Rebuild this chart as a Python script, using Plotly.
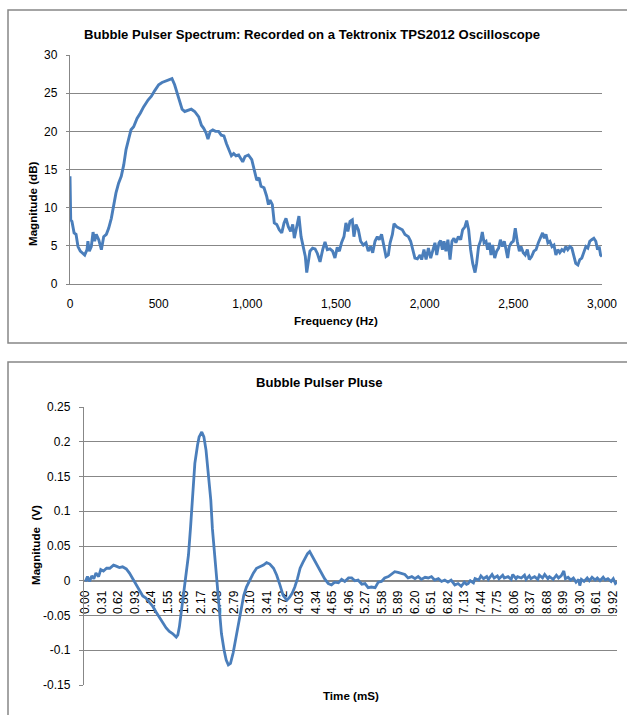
import plotly.graph_objects as go

W, H = 627, 715

# ---------------- Spectrum data (Hz, dB) ----------------
spec_freq = [0, 4, 11, 23, 34, 45, 58, 71, 83, 96, 101, 109, 120, 130, 139, 148, 162, 177, 190, 205,
             218, 233, 246, 259, 274, 289, 303, 316, 331, 344, 359, 378, 397, 415, 440, 459, 477, 500,
             519, 538, 556, 575, 590, 603, 617, 632, 647, 665, 684, 703, 726, 741, 754, 767, 778, 791,
             805, 820, 838, 853, 868, 882, 895, 910, 923, 936, 951, 965, 974, 987, 1006, 1025, 1038,
             1053, 1066, 1077, 1094, 1109, 1119, 1128, 1141, 1152, 1166, 1180, 1194, 1207, 1218, 1231,
             1244, 1256, 1265, 1278, 1291, 1303, 1316, 1327, 1335, 1344, 1353, 1368, 1382, 1395, 1410,
             1425, 1438, 1451, 1466, 1481, 1494, 1507, 1519, 1531, 1545, 1556, 1567, 1579, 1592, 1601,
             1613, 1626, 1639, 1654, 1669, 1682, 1695, 1707, 1720, 1733, 1744, 1757, 1771, 1782, 1795,
             1805, 1818, 1827, 1842, 1857, 1874, 1889, 1908, 1921, 1932, 1945, 1959, 1974, 1983, 1996,
             2008, 2021, 2034, 2045, 2058, 2068, 2081, 2090, 2100, 2109, 2120, 2131, 2143, 2154, 2165,
             2176, 2190, 2203, 2214, 2227, 2237, 2248, 2259, 2271, 2284, 2293, 2304, 2316, 2325, 2335,
             2346, 2355, 2365, 2374, 2383, 2395, 2406, 2417, 2427, 2438, 2449, 2459, 2468, 2477, 2489,
             2500, 2511, 2522, 2534, 2543, 2556, 2567, 2579, 2590, 2603, 2616, 2628, 2641, 2654, 2665,
             2675, 2684, 2695, 2706, 2718, 2729, 2740, 2751, 2762, 2774, 2785, 2796, 2807, 2819, 2830,
             2841, 2852, 2864, 2875, 2886, 2897, 2909, 2920, 2931, 2942, 2954, 2965, 2975, 2984, 2992,
             3000]
spec_db = [14.1, 8.4, 8.2, 6.7, 6.5, 4.9, 4.3, 4.0, 3.8, 4.5, 5.6, 4.3, 4.9, 6.8, 5.6, 6.5, 5.8, 4.5, 6.2, 6.5,
           7.3, 8.6, 10.2, 11.9, 13.2, 14.1, 15.6, 17.6, 19.0, 20.2, 20.6, 21.7, 22.4, 23.2, 24.1, 24.6, 25.3, 26.1,
           26.4, 26.6, 26.8, 26.9, 26.1, 25.2, 24.1, 22.9, 22.6, 22.7, 22.9, 22.6, 21.9, 20.8, 20.4, 19.8, 19.0, 20.0,
           20.2, 20.0, 20.0, 19.5, 19.4, 18.4, 17.6, 16.8, 17.1, 16.8, 16.9, 16.3, 16.0, 16.7, 16.9, 16.3, 15.0,
           13.6, 13.9, 12.8, 12.6, 11.5, 10.4, 11.0, 10.4, 8.0, 7.8, 7.1, 6.7, 8.0, 8.6, 7.5,
           6.9, 7.8, 6.0, 7.5, 8.9, 6.2, 4.9, 3.6, 1.5, 2.7, 4.3, 4.7, 4.6, 4.0, 2.9,
           4.5, 5.5, 4.5, 4.6, 4.3, 3.4, 4.8, 4.3, 5.4, 6.2, 8.0, 6.9, 8.2, 8.4, 6.2,
           7.8, 7.1, 5.6, 5.1, 5.4, 4.3, 4.9, 4.1, 5.6, 6.2, 5.8, 6.5, 4.9, 3.6, 3.8,
           5.4, 6.5, 7.9, 7.5, 7.3, 7.1, 6.5, 6.2, 5.6, 4.5, 3.4, 3.3, 3.8, 3.2, 4.5,
           3.2, 4.7, 3.4, 4.3, 5.4, 3.8, 5.4, 5.7, 4.5, 5.6, 4.3, 5.8, 3.2, 5.6, 6.0,
           5.4, 6.2, 5.8, 7.1, 7.5, 8.3, 7.1, 4.5, 2.7, 1.5, 2.7, 4.9, 5.7, 6.8, 5.4,
           5.6, 4.5, 5.4, 3.8, 5.1, 3.4, 4.3, 4.7, 5.8, 4.9, 5.6, 4.5, 3.4, 4.9, 5.4,
           5.6, 7.3, 5.6, 4.3, 4.9, 4.1, 3.8, 4.5, 3.2, 3.6, 4.3, 4.5, 5.4, 6.0, 6.7,
           6.0, 6.5, 5.4, 5.6, 4.9, 5.1, 3.8, 4.5, 4.1, 4.5, 4.3, 4.9, 4.5, 4.9, 4.7,
           3.8, 2.7, 2.5, 3.2, 3.4, 4.1, 4.9, 4.7, 5.6, 5.8, 6.0, 5.6, 4.5, 4.9, 3.8,
           3.6]

spec_yticks = [0, 5, 10, 15, 20, 25, 30]
spec_xticks = [0, 500, 1000, 1500, 2000, 2500, 3000]

# ---------------- Pulse data (ms, V) ----------------
pulse_t = [0.00, 0.04, 0.08, 0.12, 0.16, 0.20, 0.25, 0.29, 0.34, 0.40, 0.46, 0.53, 0.58, 0.64, 0.70, 0.77,
           0.83, 0.89, 0.95, 1.02, 1.08, 1.14, 1.20, 1.27, 1.33, 1.39, 1.45, 1.52, 1.58, 1.64, 1.71, 1.74,
           1.77, 1.81, 1.86, 1.89, 1.94, 1.98, 2.02, 2.06, 2.11, 2.14, 2.19, 2.23, 2.27, 2.31, 2.36, 2.39,
           2.44, 2.48, 2.52, 2.56, 2.61, 2.65, 2.69, 2.73, 2.78, 2.83, 2.88, 2.93, 2.98, 3.03, 3.10, 3.16,
           3.22, 3.28, 3.35, 3.41, 3.47, 3.54, 3.60, 3.66, 3.72, 3.79, 3.84, 3.89, 3.94, 3.99, 4.04, 4.09,
           4.14, 4.18, 4.22, 4.27, 4.32, 4.38, 4.44, 4.50, 4.57, 4.63, 4.69, 4.76, 4.82, 4.88, 4.95, 5.01,
           5.07, 5.13, 5.20, 5.26, 5.32, 5.38, 5.45, 5.51, 5.57, 5.63, 5.70, 5.76, 5.82, 5.88, 5.95, 6.01,
           6.07, 6.14, 6.20, 6.26, 6.32, 6.39, 6.45, 6.51, 6.57, 6.64, 6.70, 6.76, 6.82, 6.88, 6.95, 7.01,
           7.07, 7.13, 7.17, 7.20, 7.24, 7.30, 7.33, 7.40, 7.44, 7.49, 7.55, 7.58, 7.65, 7.69, 7.75, 7.78,
           7.85, 7.88, 7.95, 8.01, 8.04, 8.10, 8.13, 8.20, 8.26, 8.29, 8.35, 8.38, 8.45, 8.51, 8.54, 8.60,
           8.64, 8.70, 8.73, 8.80, 8.86, 8.90, 8.95, 9.00, 9.03, 9.08, 9.13, 9.18, 9.23, 9.28, 9.30, 9.33,
           9.38, 9.44, 9.48, 9.53, 9.59, 9.63, 9.68, 9.74, 9.78, 9.83, 9.89, 9.93, 9.97, 10.00]
pulse_v = [-0.001, 0.006, -0.001, 0.007, 0.003, 0.011, 0.006, 0.016, 0.014, 0.018, 0.018, 0.0225, 0.021, 0.019, 0.020, 0.017,
           0.011, 0.003, -0.006, -0.016, -0.022, -0.025, -0.030, -0.037, -0.045, -0.052, -0.060, -0.068, -0.073, -0.076, -0.081, -0.078,
           -0.066, -0.042, -0.013, 0.006, 0.037, 0.078, 0.121, 0.169, 0.195, 0.207, 0.214, 0.207, 0.188, 0.157, 0.116, 0.075,
           0.032, -0.009, -0.042, -0.076, -0.100, -0.114, -0.121, -0.119, -0.104, -0.083, -0.059, -0.037, -0.021, -0.009, 0.003, 0.011,
           0.018, 0.020, 0.0225, 0.026, 0.024, 0.018, 0.008, -0.006, -0.021, -0.028, -0.024, -0.018, -0.009, 0.003, 0.018, 0.026,
           0.034, 0.039, 0.042, 0.035, 0.030, 0.020, 0.011, 0.003, -0.004, -0.006, -0.002, -0.003, 0.002, -0.001, 0.004, 0.004,
           0.000, 0.001, -0.005, -0.004, -0.010, -0.009, -0.010, -0.002, -0.001, 0.004, 0.006, 0.010, 0.013, 0.012, 0.010, 0.009,
           0.004, 0.006, 0.003, 0.006, 0.002, 0.005, 0.004, 0.006, 0.001, 0.003, -0.001, 0.001, -0.002, 0.001, -0.006, -0.004,
           -0.008, -0.002, -0.005, -0.004, 0.000, -0.003, 0.003, 0.001, 0.007, 0.003, 0.006, 0.002, 0.009, 0.004, 0.007, 0.003,
           0.008, 0.004, 0.006, 0.002, 0.009, 0.003, 0.006, 0.004, 0.008, 0.002, 0.007, 0.003, 0.006, 0.002, 0.008, 0.004,
           0.009, 0.003, 0.006, 0.002, 0.008, 0.004, 0.007, 0.014, 0.003, 0.005, 0.001, 0.004, -0.002, 0.002, -0.007, 0.002,
           -0.001, 0.004, 0.000, 0.005, 0.001, 0.004, 0.000, 0.005, 0.001, 0.003, -0.001, 0.003, -0.004, -0.002]

pulse_xlabels = ["0.00", "0.31", "0.62", "0.93", "1.24", "1.55", "1.86", "2.17", "2.48", "2.79", "3.10",
                 "3.41", "3.72", "4.03", "4.34", "4.65", "4.96", "5.27", "5.58", "5.89", "6.20", "6.51",
                 "6.82", "7.13", "7.44", "7.75", "8.06", "8.37", "8.68", "8.99", "9.30", "9.61", "9.92"]
pulse_yticks = [-0.15, -0.1, -0.05, 0, 0.05, 0.1, 0.15, 0.2, 0.25]
pulse_ylabels = ["-0.15", "-0.1", "-0.05", "0", "0.05", "0.1", "0.15", "0.2", "0.25"]

# ---------------- Styling ----------------
LINE = "#4A7EBB"
GRID = "#878787"
FONT = "Liberation Sans"
TXT = "#000000"


def px_x(p):
    return p / W


def px_y(p):
    return 1 - p / H


fig = go.Figure()
fig.add_trace(go.Scatter(x=spec_freq, y=spec_db, mode="lines",
                         line=dict(color=LINE, width=2.9), xaxis="x", yaxis="y",
                         showlegend=False, hoverinfo="x+y"))
fig.add_trace(go.Scatter(x=pulse_t, y=pulse_v, mode="lines",
                         line=dict(color=LINE, width=2.8), xaxis="x2", yaxis="y2",
                         showlegend=False, hoverinfo="x+y"))

# plot-area pixel boxes
top_x0, top_x1, top_y0, top_y1 = 70, 602, 55, 284
bot_x0, bot_x1, bot_y0, bot_y1 = 84, 617, 407, 685

y2_dom = [px_y(bot_y1), px_y(bot_y0)]
y2_range = [-0.15, 0.25]
zero_pos = y2_dom[0] + (0 - y2_range[0]) / (y2_range[1] - y2_range[0]) * (y2_dom[1] - y2_dom[0])

tickfont = dict(family=FONT, size=12, color=TXT)

fig.update_layout(
    width=W, height=H, autosize=False,
    margin=dict(l=0, r=0, t=0, b=0, pad=0, autoexpand=False),
    paper_bgcolor="white", plot_bgcolor="white",
    font=dict(family=FONT, color=TXT),
    xaxis=dict(domain=[px_x(top_x0), px_x(top_x1)], anchor="y", range=[0, 3000],
               tickvals=spec_xticks, tickformat=",", showgrid=False, zeroline=False,
               showline=True, linecolor=GRID, linewidth=1.3, ticks="", tickfont=tickfont,
               ticklabelstandoff=8, automargin=False),
    yaxis=dict(domain=[px_y(top_y1), px_y(top_y0)], anchor="x", range=[0, 30],
               tickvals=spec_yticks, showgrid=True, gridcolor=GRID, gridwidth=1.3,
               zeroline=False, showline=True, linecolor=GRID, linewidth=1.3,
               ticks="outside", ticklen=3, tickcolor=GRID, tickfont=tickfont,
               ticklabelstandoff=6, automargin=False),
    xaxis2=dict(domain=[px_x(bot_x0), px_x(bot_x1)], anchor="free", position=zero_pos,
                range=[-0.025, 10.0], tickvals=[float(s) for s in pulse_xlabels],
                ticktext=pulse_xlabels, tickangle=-90, showgrid=False, zeroline=False,
                showline=True, linecolor=GRID, linewidth=1.3, ticks="", tickfont=tickfont,
                layer="below traces", ticklabelstandoff=4, automargin=False),
    yaxis2=dict(domain=y2_dom, anchor="x2", range=y2_range, tickvals=pulse_yticks,
                ticktext=pulse_ylabels, showgrid=True, gridcolor=GRID, gridwidth=1.3,
                zeroline=False, showline=True, linecolor=GRID, linewidth=1.3,
                ticks="outside", ticklen=4, tickcolor=GRID, tickfont=tickfont,
                ticklabelstandoff=6, automargin=False),
)

# chart borders
fig.add_shape(type="rect", xref="paper", yref="paper",
              x0=px_x(8), x1=1.05, y0=px_y(343), y1=px_y(10),
              line=dict(color=GRID, width=1.5), fillcolor="rgba(0,0,0,0)", layer="below")
fig.add_shape(type="rect", xref="paper", yref="paper",
              x0=px_x(8), x1=1.05, y0=-0.05, y1=px_y(362),
              line=dict(color=GRID, width=1.5), fillcolor="rgba(0,0,0,0)", layer="below")


def ann(text, x, y, size, angle=0):
    fig.add_annotation(text=text, xref="paper", yref="paper", x=px_x(x), y=px_y(y),
                       xanchor="center", yanchor="middle", showarrow=False, textangle=angle,
                       font=dict(family=FONT, size=size, color=TXT))


ann("<b>Bubble Pulser Spectrum: Recorded on a Tektronix TPS2012 Oscilloscope</b>", 312, 34, 13.1)
ann("<b>Frequency (Hz)</b>", 336, 321, 11.6)
ann("<b>Magnitude (dB)</b>", 33, 204, 11.6, -90)
ann("<b>Bubble Pulser Pluse</b>", 319, 382, 13.1)
ann("<b>Time (mS)</b>", 351, 695, 11.6)
ann("<b>Magnitude  (V)</b>", 35, 545, 11.6, -90)

fig.write_html("out.html", config={"responsive": False, "displayModeBar": False},
               post_script="document.body.style.margin='0';document.body.style.overflow='hidden';")
